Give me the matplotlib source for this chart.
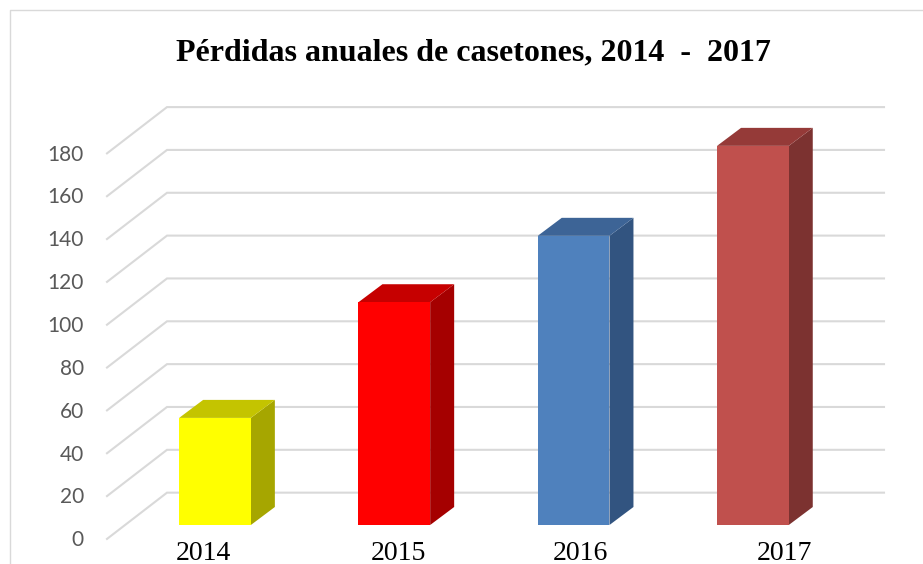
import matplotlib

matplotlib.use("Agg")
import matplotlib.pyplot as plt
from matplotlib.patches import Polygon

years = ["2014", "2015", "2016", "2017"]
losses = [50, 104, 135, 177]
front_colors = ["#ffff00", "#ff0000", "#4f81bd", "#c0504d"]
top_colors = ["#c4c400", "#c60000", "#3d6496", "#953a38"]
side_colors = ["#a6a600", "#a50000", "#325480", "#7c3230"]
y_ticks = list(range(0, 181, 20))
# the year labels sit a bit off centre under their bars in the original
year_label_shift = [-12, 4.5, 7, 32]

# pixel scale of the picture, the chart is a flat fake of a 3d excel column chart
PX_Y = 2.142
PX_X = 179.3
WIDTH, HEIGHT = 923, 564
ORIGIN_X, ORIGIN_Y = 215, 525

fig = plt.figure(figsize=(WIDTH / 100, HEIGHT / 100), dpi=100)
ax = fig.add_axes([0, 0, 1, 1])
ax.set_xlim(-ORIGIN_X / PX_X, (WIDTH - ORIGIN_X) / PX_X)
ax.set_ylim(-(HEIGHT - ORIGIN_Y) / PX_Y, ORIGIN_Y / PX_Y)
ax.axis("off")

wall_x = (167 - ORIGIN_X) / PX_X
front_x = (107 - ORIGIN_X) / PX_X
right_x = (884 - ORIGIN_X) / PX_X
wall_dy = 15.1
front_dy = -6.5
for v in y_ticks:
    ax.plot([front_x, wall_x, right_x], [v + front_dy, v + wall_dy, v + wall_dy],
            color="#d9d9d9", linewidth=1.5, solid_joinstyle="miter", zorder=1)
    ax.text((84 - ORIGIN_X) / PX_X, v + front_dy - 0.6, str(v), ha="right", va="center",
            fontsize=15, family="Lato", color="#595959")

bar_w = 0.2
depth_x = 24 / PX_X
depth_y = 18 / PX_Y
for i, val in enumerate(losses):
    l, r = i - bar_w, i + bar_w
    ax.add_patch(Polygon([(r, 0), (r + depth_x, depth_y), (r + depth_x, val + depth_y), (r, val)],
                         facecolor=side_colors[i], edgecolor="none", zorder=2))
    ax.add_patch(Polygon([(l, val), (r, val), (r + depth_x, val + depth_y), (l + depth_x, val + depth_y)],
                         facecolor=top_colors[i], edgecolor="none", zorder=2))
    ax.add_patch(Polygon([(l, 0), (r, 0), (r, val), (l, val)],
                         facecolor=front_colors[i], edgecolor="none", zorder=3))

for i, year in enumerate(years):
    ax.text(i + year_label_shift[i] / PX_X, -13.3, year, ha="center", va="center",
            fontsize=20, family="Liberation Serif", color="black")

ax.text((473 - ORIGIN_X) / PX_X, (525 - 53) / PX_Y, "Pérdidas anuales de casetones, 2014  -  2017",
        ha="center", va="center", fontsize=23, fontweight="bold",
        family="Liberation Serif", color="black")

# chart frame, only left and top are inside the crop
ax.plot([(10 - ORIGIN_X) / PX_X, (10 - ORIGIN_X) / PX_X, (WIDTH - ORIGIN_X) / PX_X],
        [-(HEIGHT - ORIGIN_Y) / PX_Y, (525 - 10) / PX_Y, (525 - 10) / PX_Y],
        color="#d9d9d9", linewidth=1, zorder=0)

fig.savefig("out.png", dpi=100)
plt.close(fig)
